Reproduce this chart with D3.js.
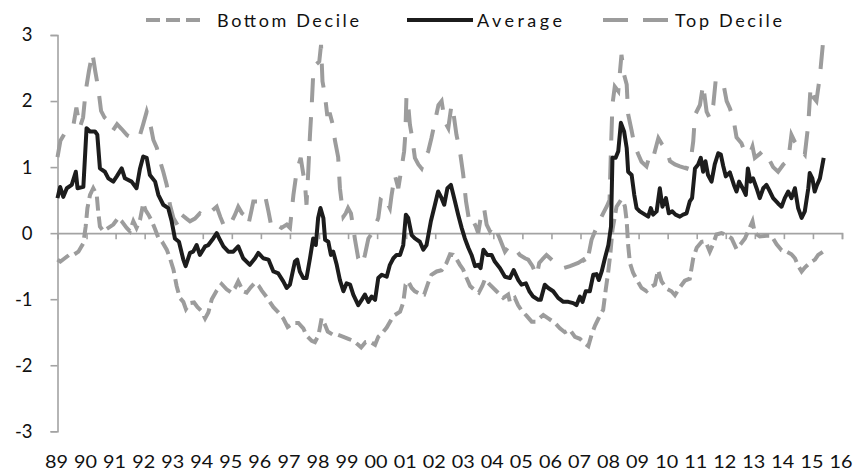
<!DOCTYPE html>
<html><head><meta charset="utf-8">
<script src="https://cdn.jsdelivr.net/npm/d3@7/dist/d3.min.js"></script>
<style>
html,body{margin:0;padding:0;background:#fff;}
svg{display:block;font-family:Lato,"Open Sans",sans-serif;}
</style></head>
<body><svg id="chart" width="860" height="475"></svg>
<script>
// ---- data (decimal year, value) ----
const yearLabels = ["89","90","91","92","93","94","95","96","97","98","99","00","01","02","03","04","05","06","07","08","09","10","11","12","13","14","15","16"];
const yTicks = [-3,-2,-1,0,1,2,3];
const seriesNames = ["Bottom Decile","Average","Top Decile"];

const avgDates = [1989.00,1989.09,1989.20,1989.32,1989.49,1989.63,1989.69,1989.89,1990.00,1990.12,1990.29,1990.37,1990.46,1990.63,1990.75,1990.92,1991.04,1991.21,1991.32,1991.55,1991.72,1991.84,1991.95,1992.07,1992.18,1992.36,1992.47,1992.64,1992.81,1992.93,1993.04,1993.18,1993.33,1993.41,1993.56,1993.67,1993.79,1993.90,1994.08,1994.19,1994.36,1994.48,1994.59,1994.71,1994.88,1995.05,1995.22,1995.39,1995.62,1995.80,1995.91,1996.08,1996.26,1996.43,1996.60,1996.77,1996.89,1997.00,1997.17,1997.25,1997.34,1997.46,1997.57,1997.69,1997.80,1997.89,1997.97,1998.05,1998.15,1998.21,1998.32,1998.41,1998.49,1998.61,1998.72,1998.84,1998.95,1999.07,1999.18,1999.35,1999.47,1999.58,1999.70,1999.81,1999.93,2000.04,2000.16,2000.33,2000.44,2000.56,2000.67,2000.79,2000.90,2000.99,2001.07,2001.19,2001.30,2001.47,2001.59,2001.70,2001.85,2001.99,2002.10,2002.22,2002.31,2002.42,2002.54,2002.68,2002.79,2002.91,2003.02,2003.14,2003.25,2003.37,2003.48,2003.56,2003.66,2003.79,2003.94,2004.05,2004.23,2004.40,2004.57,2004.70,2004.86,2004.97,2005.12,2005.24,2005.37,2005.55,2005.63,2005.77,2005.89,2006.06,2006.23,2006.41,2006.58,2006.75,2006.86,2006.98,2007.07,2007.18,2007.32,2007.44,2007.55,2007.63,2007.73,2007.84,2007.96,2008.05,2008.10,2008.21,2008.30,2008.39,2008.50,2008.59,2008.64,2008.76,2008.85,2008.93,2009.04,2009.22,2009.33,2009.42,2009.50,2009.62,2009.73,2009.82,2009.94,2010.04,2010.16,2010.27,2010.42,2010.53,2010.65,2010.76,2010.84,2010.94,2011.05,2011.14,2011.22,2011.30,2011.39,2011.51,2011.62,2011.74,2011.83,2011.91,2012.00,2012.14,2012.28,2012.37,2012.46,2012.58,2012.69,2012.76,2012.85,2012.94,2013.06,2013.17,2013.29,2013.40,2013.52,2013.63,2013.80,2013.92,2014.03,2014.15,2014.26,2014.38,2014.49,2014.61,2014.72,2014.84,2014.89,2014.98,2015.06,2015.14,2015.24,2015.37];
const avgValues = [0.53,0.70,0.55,0.68,0.73,0.93,0.68,0.70,1.59,1.54,1.54,1.49,0.98,0.93,0.83,0.78,0.86,0.98,0.83,0.78,0.68,0.98,1.16,1.14,0.88,0.78,0.58,0.43,0.38,0.18,-0.08,-0.13,-0.40,-0.50,-0.30,-0.28,-0.18,-0.33,-0.20,-0.18,-0.08,0.00,-0.10,-0.20,-0.28,-0.28,-0.20,-0.38,-0.48,-0.38,-0.30,-0.38,-0.40,-0.58,-0.61,-0.73,-0.83,-0.78,-0.43,-0.40,-0.58,-0.68,-0.68,-0.38,-0.08,-0.18,0.23,0.38,0.23,-0.10,-0.13,-0.33,-0.28,-0.48,-0.71,-0.88,-0.76,-0.78,-0.93,-1.09,-1.01,-0.93,-1.04,-0.96,-1.01,-0.68,-0.63,-0.66,-0.48,-0.38,-0.33,-0.33,-0.18,0.28,0.23,-0.03,-0.08,-0.13,-0.25,-0.18,0.18,0.43,0.63,0.53,0.43,0.68,0.73,0.48,0.28,0.08,-0.08,-0.22,-0.33,-0.50,-0.48,-0.53,-0.25,-0.33,-0.33,-0.43,-0.53,-0.66,-0.68,-0.56,-0.71,-0.78,-0.76,-0.88,-0.96,-1.01,-1.01,-0.78,-0.83,-0.88,-0.98,-1.04,-1.04,-1.06,-1.09,-0.96,-1.04,-0.88,-0.88,-0.63,-0.62,-0.71,-0.58,-0.38,-0.18,0.10,1.14,1.14,1.24,1.67,1.54,1.29,0.93,0.88,0.58,0.38,0.33,0.28,0.25,0.38,0.28,0.33,0.68,0.40,0.53,0.30,0.33,0.28,0.25,0.28,0.30,0.48,0.53,0.98,1.04,1.14,0.93,1.09,0.88,0.78,1.04,1.21,1.19,1.02,0.86,0.92,0.73,0.63,0.78,0.68,0.58,0.98,0.78,0.83,0.68,0.53,0.68,0.73,0.63,0.53,0.45,0.40,0.53,0.63,0.53,0.68,0.38,0.23,0.33,0.68,0.91,0.83,0.63,0.73,0.83,1.14];

const topDates = [1989.00,1989.10,1989.30,1989.45,1989.55,1989.65,1989.77,1989.88,1989.97,1990.08,1990.20,1990.30,1990.40,1990.50,1990.62,1990.75,1990.90,1991.05,1991.20,1991.40,1991.55,1991.72,1991.85,1991.95,1992.07,1992.18,1992.30,1992.42,1992.53,1992.64,1992.76,1992.87,1992.99,1993.16,1993.27,1993.44,1993.56,1993.73,1993.90,1994.08,1994.19,1994.30,1994.48,1994.60,1994.71,1994.82,1995.00,1995.11,1995.22,1995.35,1995.50,1995.57,1995.67,1995.74,1995.91,1996.03,1996.14,1996.26,1996.37,1996.55,1996.71,1996.89,1997.00,1997.06,1997.12,1997.23,1997.37,1997.52,1997.57,1997.63,1997.69,1997.75,1997.80,1997.89,1998.01,1998.07,1998.12,1998.20,1998.28,1998.38,1998.47,1998.55,1998.66,1998.72,1998.84,1998.92,1999.00,1999.10,1999.24,1999.35,1999.49,1999.58,1999.70,1999.87,1999.95,2000.04,2000.13,2000.22,2000.44,2000.50,2000.61,2000.73,2000.84,2000.93,2000.97,2001.01,2001.07,2001.13,2001.21,2001.30,2001.42,2001.53,2001.65,2001.76,2001.87,2001.99,2002.11,2002.22,2002.33,2002.45,2002.56,2002.62,2002.73,2002.85,2002.96,2003.06,2003.19,2003.31,2003.40,2003.48,2003.60,2003.68,2003.77,2003.88,2004.00,2004.11,2004.22,2004.40,2004.57,2004.74,2004.91,2005.09,2005.20,2005.35,2005.49,2005.58,2005.72,2005.83,2006.00,2006.20,2006.41,2006.64,2006.92,2007.10,2007.21,2007.38,2007.50,2007.67,2007.78,2007.90,2008.00,2008.05,2008.10,2008.18,2008.30,2008.41,2008.50,2008.59,2008.64,2008.76,2008.85,2008.99,2009.10,2009.27,2009.39,2009.50,2009.68,2009.80,2009.91,2010.00,2010.08,2010.25,2010.42,2010.65,2010.82,2010.88,2010.94,2011.11,2011.22,2011.34,2011.45,2011.57,2011.65,2011.78,2011.91,2012.03,2012.14,2012.26,2012.37,2012.54,2012.66,2012.83,2012.92,2013.00,2013.17,2013.29,2013.45,2013.63,2013.80,2013.98,2014.15,2014.26,2014.38,2014.55,2014.72,2014.84,2014.92,2015.03,2015.12,2015.24,2015.35];
const topValues = [1.15,1.40,1.55,1.62,1.64,1.90,1.60,1.75,2.15,2.45,2.73,2.45,2.20,1.85,1.75,1.70,1.55,1.65,1.58,1.48,1.45,1.42,1.50,1.65,1.84,1.68,1.41,1.29,1.09,0.93,0.73,0.43,0.23,0.10,0.28,0.22,0.18,0.22,0.30,0.25,0.28,0.33,0.40,0.25,0.13,0.08,0.18,0.28,0.40,0.30,0.25,0.13,0.33,0.48,0.48,0.53,0.58,0.33,0.08,0.13,0.08,0.13,0.08,0.33,0.58,0.93,1.14,0.73,0.43,0.93,1.49,1.94,2.40,2.55,2.60,2.85,2.30,2.10,1.80,1.80,1.65,1.40,1.15,0.68,0.25,0.30,0.38,0.30,-0.10,-0.38,-0.48,-0.33,-0.08,0.03,0.13,0.23,0.53,0.58,0.38,0.58,0.88,0.68,0.98,1.24,1.49,2.07,1.94,1.64,1.44,1.14,1.04,0.98,1.14,1.24,1.44,1.69,1.94,2.00,1.69,1.59,1.94,1.84,1.49,1.24,0.90,0.48,0.13,0.18,0.10,0.00,0.33,0.38,0.13,0.03,0.13,0.03,-0.08,-0.28,-0.18,-0.23,-0.33,-0.38,-0.40,-0.50,-0.65,-0.45,-0.38,-0.33,-0.40,-0.48,-0.53,-0.50,-0.45,-0.40,-0.48,-0.10,0.03,0.20,0.30,0.40,0.50,1.30,1.95,2.22,2.15,2.70,2.40,2.25,1.80,1.55,1.35,1.19,1.08,1.01,1.19,1.14,1.44,1.35,1.29,1.20,1.09,1.04,1.01,0.98,1.19,1.39,1.79,1.94,2.25,1.84,1.74,1.94,2.30,2.25,2.28,2.00,1.89,1.74,1.45,1.36,1.22,1.20,1.31,1.14,1.20,1.25,1.15,1.00,0.93,1.04,1.10,1.49,1.38,1.28,1.19,1.65,2.22,2.05,2.00,2.38,2.90];

const botDates = [1989.00,1989.10,1989.25,1989.40,1989.55,1989.72,1989.89,1989.97,1990.03,1990.12,1990.23,1990.35,1990.40,1990.46,1990.58,1990.75,1990.92,1991.09,1991.21,1991.38,1991.49,1991.61,1991.72,1991.84,1991.95,1992.03,1992.13,1992.25,1992.36,1992.47,1992.60,1992.76,1992.87,1992.99,1993.10,1993.21,1993.33,1993.42,1993.56,1993.70,1993.82,1993.96,1994.08,1994.19,1994.31,1994.48,1994.65,1994.82,1994.98,1995.11,1995.22,1995.39,1995.51,1995.65,1995.80,1995.93,1996.03,1996.20,1996.43,1996.60,1996.77,1996.92,1997.12,1997.29,1997.46,1997.57,1997.75,1997.86,1997.98,1998.09,1998.20,1998.30,1998.49,1998.66,1998.84,1999.01,1999.18,1999.35,1999.45,1999.60,1999.75,1999.93,2000.04,2000.16,2000.33,2000.50,2000.61,2000.79,2000.90,2000.98,2001.07,2001.19,2001.30,2001.47,2001.62,2001.76,2001.87,2002.05,2002.22,2002.39,2002.51,2002.62,2002.72,2002.85,2002.96,2003.08,2003.20,2003.35,2003.50,2003.62,2003.71,2003.88,2004.11,2004.34,2004.51,2004.57,2004.74,2004.85,2004.97,2005.14,2005.32,2005.45,2005.72,2005.89,2006.12,2006.29,2006.46,2006.63,2006.81,2006.98,2007.15,2007.27,2007.38,2007.50,2007.61,2007.78,2007.87,2007.95,2008.03,2008.10,2008.24,2008.39,2008.47,2008.53,2008.59,2008.64,2008.70,2008.81,2008.93,2009.10,2009.27,2009.40,2009.56,2009.67,2009.79,2009.96,2010.13,2010.25,2010.42,2010.59,2010.76,2010.88,2011.00,2011.17,2011.30,2011.45,2011.55,2011.68,2011.85,2012.03,2012.20,2012.37,2012.54,2012.66,2012.77,2012.92,2013.00,2013.17,2013.40,2013.57,2013.75,2013.92,2014.09,2014.26,2014.38,2014.50,2014.61,2014.72,2014.89,2015.07,2015.18,2015.35];
const botValues = [-0.40,-0.43,-0.38,-0.33,-0.33,-0.28,-0.15,0.10,0.38,0.58,0.68,0.58,0.33,0.10,0.03,0.08,0.13,0.23,0.18,0.08,0.03,0.18,0.08,0.20,0.45,0.35,0.28,0.18,0.06,-0.07,-0.13,-0.25,-0.38,-0.55,-0.80,-0.98,-1.04,-1.15,-1.06,-1.05,-1.12,-1.18,-1.29,-1.20,-1.00,-0.87,-0.77,-0.85,-0.90,-0.83,-0.73,-0.88,-0.90,-0.82,-0.75,-0.80,-0.87,-0.97,-1.12,-1.20,-1.29,-1.42,-1.36,-1.36,-1.44,-1.55,-1.63,-1.65,-1.55,-1.29,-1.38,-1.49,-1.54,-1.54,-1.57,-1.60,-1.63,-1.69,-1.73,-1.65,-1.64,-1.69,-1.57,-1.52,-1.43,-1.30,-1.24,-1.19,-1.05,-0.78,-0.73,-0.83,-0.88,-0.92,-0.93,-0.75,-0.63,-0.58,-0.56,-0.45,-0.32,-0.33,-0.38,-0.48,-0.55,-0.68,-0.80,-0.86,-0.90,-0.80,-0.70,-0.78,-0.88,-0.98,-0.93,-1.04,-0.98,-1.09,-1.17,-1.25,-1.34,-1.34,-1.24,-1.29,-1.36,-1.44,-1.50,-1.46,-1.57,-1.60,-1.67,-1.71,-1.54,-1.40,-1.30,-1.16,-0.85,-0.60,-0.30,0.05,0.40,0.50,0.48,0.40,0.18,-0.18,-0.45,-0.60,-0.70,-0.83,-0.88,-0.82,-0.78,-0.56,-0.73,-0.84,-0.88,-0.94,-0.82,-0.72,-0.69,-0.38,-0.22,-0.13,-0.12,-0.28,-0.18,-0.02,0.00,-0.03,-0.08,-0.24,-0.15,-0.08,0.03,0.18,0.00,-0.05,-0.04,-0.04,-0.17,-0.26,-0.28,-0.32,-0.38,-0.50,-0.58,-0.52,-0.45,-0.40,-0.33,-0.28];

// ---- chart ----
const svg = d3.select("#chart");
const x = d3.scaleLinear().domain([1989, 2016]).range([57.5, 842]);
const y = d3.scaleLinear().domain([-3, 3]).range([431.3, 35]);
const axisColor = "#a3a3a3";
const grey = "#9c9c9c";
const dark = "#1c1c1c";

// y axis
const yAxis = svg.append("g").attr("transform", "translate(57.5,0)")
  .call(d3.axisLeft(y).tickValues(yTicks).tickSize(7).tickPadding(18).tickFormat(d => String(d)));
yAxis.select(".domain").attr("stroke", axisColor).attr("stroke-width", 1.6);
yAxis.selectAll(".tick line").attr("stroke", axisColor).attr("stroke-width", 1.6);
yAxis.selectAll(".tick text").attr("fill", "#111").style("font-size", "18.5px").style("font-family", "Lato, 'Open Sans', sans-serif");

// x axis at zero
const years = d3.range(1989, 2017);
const xAxis = svg.append("g").attr("transform", `translate(0,${y(0)})`)
  .call(d3.axisBottom(x).tickValues(years).tickSize(6).tickFormat(""));
xAxis.select(".domain").attr("stroke", axisColor).attr("stroke-width", 1.6);
xAxis.selectAll(".tick line").attr("stroke", axisColor).attr("stroke-width", 1.6);

// x labels low
svg.append("g").selectAll("text").data(years).join("text")
  .attr("x", (d) => x(d) - 1)
  .attr("y", 468)
  .attr("text-anchor", "middle")
  .attr("fill", "#111")
  .style("font-size", "18px")
  .attr("textLength", 23)
  .attr("lengthAdjust", "spacingAndGlyphs")
  .text((d, i) => yearLabels[i]);

// lines
const line = d3.line().x(d => x(d[0])).y(d => y(d[1])).curve(d3.curveLinear);
const zip = (a, b) => a.map((d, i) => [d, b[i]]);

svg.append("path").datum(zip(botDates, botValues))
  .attr("fill", "none").attr("stroke", grey).attr("stroke-width", 4)
  .attr("stroke-dasharray", "14,6").attr("d", line);
svg.append("path").datum(zip(topDates, topValues))
  .attr("fill", "none").attr("stroke", grey).attr("stroke-width", 4)
  .attr("stroke-dasharray", "24,15").attr("d", line);
svg.append("path").datum(zip(avgDates, avgValues))
  .attr("fill", "none").attr("stroke", dark).attr("stroke-width", 4)
  .attr("stroke-linejoin", "round").attr("d", line);

// legend
const legend = [
  {name: seriesNames[0], x1: 146, x2: 204, tx: 217, tw: 142, color: grey, dash: "14,6"},
  {name: seriesNames[1], x1: 407, x2: 473, tx: 477, tw: 85, color: dark, dash: null},
  {name: seriesNames[2], x1: 603, x2: 668, tx: 675, tw: 107, color: grey, dash: "25,15"}
];
const lg = svg.append("g");
legend.forEach(l => {
  lg.append("line").attr("x1", l.x1).attr("x2", l.x2).attr("y1", 20).attr("y2", 20)
    .attr("stroke", l.color).attr("stroke-width", 4)
    .attr("stroke-dasharray", l.dash);
  lg.append("text").attr("x", l.tx).attr("y", 26.5).attr("fill", "#111")
    .style("font-size", "18px").attr("textLength", l.tw).attr("lengthAdjust", "spacing")
    .text(l.name);
});
</script></body></html>
